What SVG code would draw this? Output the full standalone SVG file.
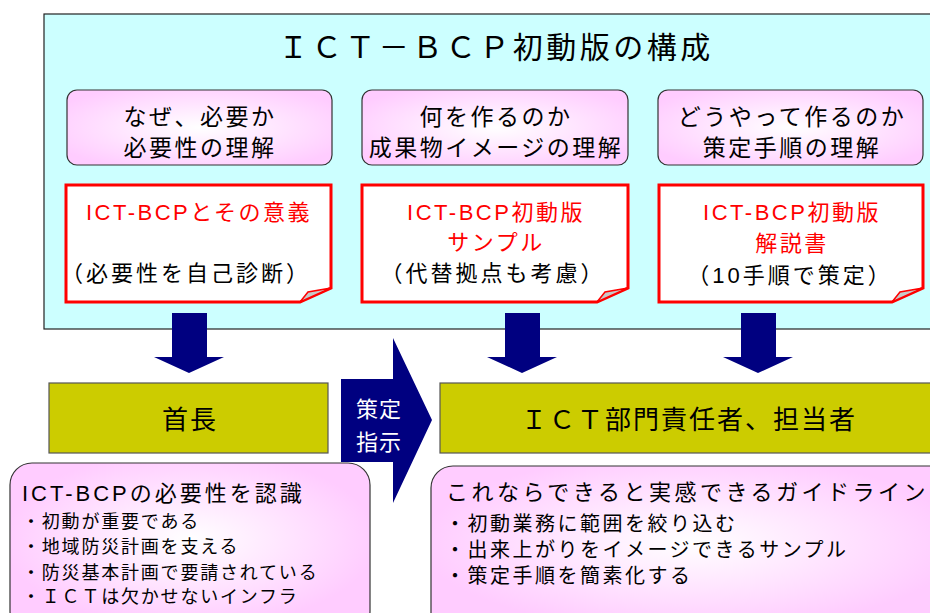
<svg xmlns="http://www.w3.org/2000/svg" width="930" height="613" viewBox="0 0 930 613">
<defs>
<radialGradient id="pg" cx="50%" cy="50%" r="60%">
<stop offset="0" stop-color="#FFFFFF"/>
<stop offset="1" stop-color="#FFCCFF"/>
</radialGradient>
<radialGradient id="pg2" cx="50%" cy="45%" r="65%">
<stop offset="0" stop-color="#FFFFFF"/>
<stop offset="0.8" stop-color="#FFCCFF"/>
</radialGradient>
<style>
text{font-family:"Liberation Sans","Noto Sans CJK JP",sans-serif;}
.pink{fill:url(#pg);stroke:#333;stroke-width:1.2;}
.pink2{fill:url(#pg2);stroke:#333;stroke-width:1.2;}
.note{fill:#FFFFFF;stroke:#FF0000;stroke-width:3;stroke-linejoin:miter;}
.fold{fill:#C8C8C8;stroke:#FF0000;stroke-width:1.5;}
.yel{fill:#CCCC00;stroke:#555;stroke-width:1.2;}
.navy{fill:#000080;}
.t{font-size:23px;letter-spacing:2.5px;text-anchor:middle;fill:#000;}
.r{font-size:22px;letter-spacing:2.5px;text-anchor:middle;fill:#FF0000;}
.k{font-size:22px;letter-spacing:3px;text-anchor:middle;fill:#000;}
.b{font-size:18px;letter-spacing:1.8px;fill:#000;}
.b2{font-size:20px;letter-spacing:2.5px;fill:#000;}
.h{font-size:22px;letter-spacing:3px;fill:#000;}
.h2{font-size:22px;letter-spacing:3.5px;fill:#000;}
</style>
</defs>

<g id="frame">
<rect x="44" y="14" width="900" height="315" fill="#CCFFFF" stroke="#222" stroke-width="1.2"/>
<text x="496" y="58" style="font-size:30px;letter-spacing:3.5px;text-anchor:middle;fill:#000;">ＩＣＴ－ＢＣＰ初動版の構成</text>
</g>

<g id="why">
<rect class="pink" x="67" y="90" width="265" height="75" rx="10"/>
<text class="t" x="200" y="125">なぜ、必要か</text>
<text class="t" x="200" y="156">必要性の理解</text>
</g>
<g id="what">
<rect class="pink" x="362" y="90" width="266" height="75" rx="10"/>
<text class="t" x="496" y="125">何を作るのか</text>
<text class="t" x="496" y="156">成果物イメージの理解</text>
</g>
<g id="how">
<rect class="pink" x="658" y="90" width="265" height="75" rx="10"/>
<text class="t" x="792" y="125">どうやって作るのか</text>
<text class="t" x="792" y="156">策定手順の理解</text>
</g>

<g id="note1">
<path class="note" d="M66,185 H331 V288 L300,302 H66 Z"/>
<path class="fold" d="M300,302 L308,292 L331,288 Z"/>
<text class="r" x="199" y="220">ICT-BCPとその意義</text>
<text class="k" x="186" y="281">（必要性を自己診断）</text>
</g>
<g id="note2">
<path class="note" d="M362,185 H628 V288 L597,302 H362 Z"/>
<path class="fold" d="M597,302 L605,292 L628,288 Z"/>
<text class="r" x="496" y="220">ICT-BCP初動版</text>
<text class="r" x="496" y="250">サンプル</text>
<text class="k" x="493" y="281">（代替拠点も考慮）</text>
</g>
<g id="note3">
<path class="note" d="M659,185 H923 V288 L892,302 H659 Z"/>
<path class="fold" d="M892,302 L900,292 L923,288 Z"/>
<text class="r" x="792" y="220">ICT-BCP初動版</text>
<text class="r" x="792" y="251">解説書</text>
<text class="k" x="790" y="283">（10手順で策定）</text>
</g>

<g id="connectors">
<path class="navy" d="M172,313 H207 V357 H224 L189,373 L154,357 H172 Z"/>
<path class="navy" d="M505,313 H540 V357 H557 L522,373 L487,357 H505 Z"/>
<path class="navy" d="M741,313 H776 V357 H793 L758,373 L723,357 H741 Z"/>
<path class="navy" d="M341,379 H393 V338 L432,420 L393,503 V462 H341 Z"/>
<text x="379" y="417" style="font-size:22px;text-anchor:middle;fill:#FFFFFF;letter-spacing:1px;">策定</text>
<text x="379" y="450" style="font-size:22px;text-anchor:middle;fill:#FFFFFF;letter-spacing:1px;">指示</text>
</g>

<g id="mayor">
<rect class="yel" x="49" y="383" width="279" height="70"/>
<text x="190" y="429" style="font-size:26px;letter-spacing:2px;text-anchor:middle;fill:#000;">首長</text>
</g>
<g id="ict">
<rect class="yel" x="440" y="383" width="500" height="70"/>
<text x="689" y="429" style="font-size:26px;letter-spacing:2px;text-anchor:middle;fill:#000;">ＩＣＴ部門責任者、担当者</text>
</g>

<g id="need">
<rect class="pink2" x="10" y="463" width="360" height="170" rx="22"/>
<text class="h" x="22" y="501">ICT-BCPの必要性を認識</text>
<text class="b" x="22" y="528">・初動が重要である</text>
<text class="b" x="22" y="553">・地域防災計画を支える</text>
<text class="b" x="22" y="579">・防災基本計画で要請されている</text>
<text class="b" x="22" y="603">・ＩＣＴは欠かせないインフラ</text>
</g>
<g id="guide">
<rect class="pink2" x="431" y="466" width="520" height="170" rx="22"/>
<text class="h2" x="446" y="500">これならできると実感できるガイドライン</text>
<text class="b2" x="445" y="531">・初動業務に範囲を絞り込む</text>
<text class="b2" x="445" y="557">・出来上がりをイメージできるサンプル</text>
<text class="b2" x="445" y="583">・策定手順を簡素化する</text>
</g>
</svg>
